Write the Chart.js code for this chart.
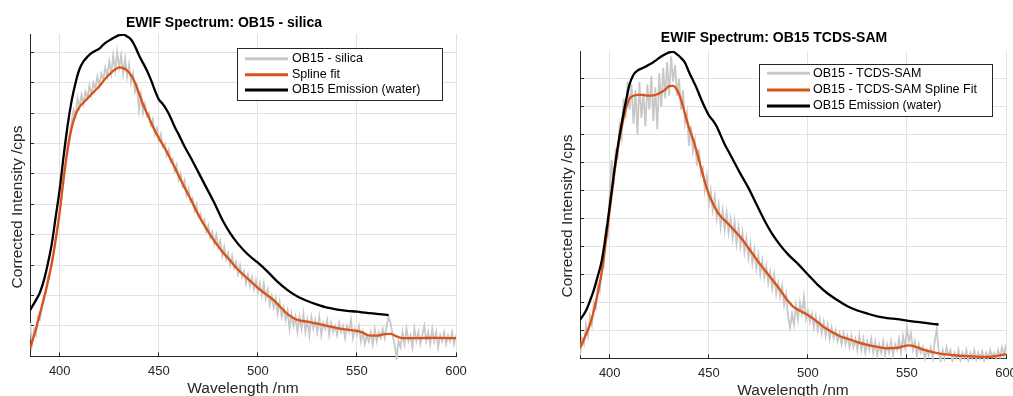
<!DOCTYPE html>
<html>
<head>
<meta charset="utf-8">
<title>EWIF Spectrum</title>
<script src="https://cdn.jsdelivr.net/npm/chart.js@4.4.1/dist/chart.umd.min.js"></script>
<style>
    html, body { margin: 0; padding: 0; background: #fff; overflow: hidden; }
    #wrap { position: relative; width: 1013px; height: 396px; }
    canvas { position: absolute; top: 0; }
    #silicaChart { left: 0; }
    #samChart { left: 540px; }
</style>
</head>
<body>
<div id="wrap">
    <canvas id="silicaChart" width="470" height="396"></canvas>
    <canvas id="samChart" width="473" height="398"></canvas>
</div>
<script>
// ==================== DONNEES ====================
const xTicks = [400, 450, 500, 550, 600];
const gridLevels = [0, 1, 2, 3, 4, 5, 6, 7, 8, 9, 10];

// spectres bruts : un point par nm, de 385 a 600 nm
const rawStart = 385;
const silicaRaw = [
    1.1, 0.4, 0.9, 0.7, 1.3, 1.2, 1.6, 2.0, 2.1, 2.6,
    2.8, 3.2, 3.5, 3.9, 4.3, 4.8, 5.3, 5.9, 6.4, 7.0,
    7.3, 7.7, 8.1, 7.9, 8.5, 8.2, 8.6, 8.3, 8.7, 8.5,
    8.9, 8.6, 9.0, 8.8, 9.2, 8.9, 9.3, 9.1, 9.5, 9.2,
    9.7, 9.3, 9.9, 9.4, 10.0, 9.5, 9.9, 9.3, 9.8, 9.2,
    9.6, 9.0, 9.3, 8.7, 8.9, 8.1, 8.6, 8.0, 8.3, 7.9,
    8.0, 7.6, 7.8, 7.3, 7.5, 7.1, 7.3, 6.9, 7.0, 6.6,
    6.8, 6.4, 6.5, 6.1, 6.3, 5.8, 6.0, 5.6, 5.8, 5.3,
    5.5, 5.1, 5.2, 4.8, 5.0, 4.6, 4.7, 4.4, 4.5, 4.1,
    4.3, 3.9, 4.1, 3.7, 4.0, 3.6, 3.8, 3.3, 3.6, 3.2,
    3.4, 3.0, 3.3, 2.9, 3.1, 2.7, 3.0, 2.6, 2.8, 2.4,
    2.7, 2.3, 2.6, 2.2, 2.5, 2.1, 2.4, 2.0, 2.4, 1.9,
    2.2, 1.7, 2.0, 1.6, 1.9, 1.4, 1.8, 1.3, 1.6, 1.2,
    1.5, 0.9, 1.4, 1.0, 1.3, 0.8, 1.3, 0.9, 1.4, 0.8,
    1.2, 0.7, 1.3, 0.9, 1.2, 0.8, 1.3, 0.7, 1.1, 0.9,
    1.2, 0.7, 1.1, 0.8, 1.0, 0.7, 1.1, 0.8, 1.0, 0.6,
    1.0, 0.8, 1.2, 0.6, 0.9, 0.7, 1.0, 0.5, 0.8, 0.4,
    0.7, 0.5, 0.8, 0.4, 0.9, 0.5, 0.8, 0.6, 0.9, 0.6,
    1.0, 1.3, 1.1, 0.7, 0.4, -0.05, 0.5, 0.3, 0.8, 0.4,
    0.9, 0.5, 0.7, 0.3, 0.9, 0.5, 0.8, 0.4, 0.7, 1.0,
    0.5, 0.8, 0.4, 0.9, 0.5, 0.8, 0.3, 0.7, 0.5, 0.8,
    0.4, 0.7, 0.5, 0.8, 0.4, 0.7
];
const samRaw = [
    0.1, 0.7, 0.5, 1.2, 0.8, 1.5, 1.2, 2.0, 1.8, 2.6,
    2.4, 3.4, 3.3, 4.6, 4.4, 5.9, 7.1, 6.2, 7.4, 7.2,
    8.3, 7.9, 9.3, 8.6, 9.9, 8.9, 9.8, 8.4, 9.6, 8.0,
    9.9, 8.6, 9.5, 8.3, 9.8, 8.9, 10.1, 8.5, 9.7, 8.2,
    10.2, 9.0, 10.4, 9.3, 10.6, 9.4, 10.8, 9.9, 10.5, 9.4,
    10.0, 8.9, 9.6, 8.4, 8.8, 7.6, 8.3, 7.4, 7.8, 6.9,
    7.5, 6.6, 6.8, 6.0, 6.5, 5.5, 6.0, 5.3, 5.8, 5.0,
    5.5, 4.7, 5.3, 4.6, 5.2, 4.5, 5.0, 4.3, 4.9, 4.1,
    4.7, 4.0, 4.5, 3.8, 4.3, 3.6, 4.1, 3.4, 3.9, 3.2,
    3.7, 3.0, 3.5, 2.9, 3.3, 2.7, 3.1, 2.5, 3.0, 2.3,
    2.7, 2.2, 2.6, 1.9, 2.3, 1.5, 1.1, 1.6, 1.2, 1.9,
    1.4, 2.0, 1.6, 2.2, 1.4, 1.7, 1.3, 1.6, 1.1, 1.5,
    1.0, 1.4, 0.9, 1.3, 0.8, 1.2, 0.7, 1.1, 0.7, 1.0,
    0.6, 0.9, 0.5, 0.9, 0.5, 0.8, 0.4, 0.8, 0.4, 0.7,
    0.3, 0.8, 0.3, 0.7, 0.2, 0.6, 0.3, 0.7, 0.2, 0.6,
    0.1, 0.5, 0.2, 0.6, 0.1, 0.5, 0.2, 0.6, 0.1, 0.5,
    0.3, 0.7, 0.2, 0.8, 0.4, 1.1, 0.6, 0.9, 0.3, 0.6,
    0.1, 0.5, 0.2, 0.4, 0.0, 0.3, 0.1, 0.4, 0.0, 0.6,
    1.05, 0.3, -0.1, 0.3, 0.0, 0.4, 0.1, 0.3, -0.1, 0.2,
    0.0, 0.3, -0.1, 0.2, 0.0, 0.3, -0.1, 0.2, 0.0, 0.3,
    -0.05, 0.2, 0.0, 0.25, -0.1, 0.2, 0.0, 0.3, 0.05, 0.2,
    0.0, 0.3, 0.05, 0.4, 0.1, 0.5
];

// ajustements spline
const silicaFitNm = [385, 388, 390, 392, 394, 396, 398, 400, 402, 404, 406, 408, 410, 412, 414, 416, 418, 420,
    422, 424, 426, 428, 430, 432, 434, 436, 438, 440, 442, 444, 446, 448, 450, 452, 454, 456, 458, 460,
    463, 466, 470, 474, 478, 482, 486, 490, 495, 500, 505, 508, 511, 514, 517, 520,
    525, 530, 535, 540, 545, 550, 553, 556, 560, 564, 567, 570, 573, 580, 590, 600];
const silicaFit = [0.25, 0.9, 1.4, 1.9, 2.45, 3.05, 3.85, 4.75, 5.85, 6.8, 7.5, 7.95, 8.2, 8.35, 8.48, 8.62, 8.75, 8.88,
    9.05, 9.2, 9.33, 9.43, 9.5, 9.48, 9.4, 9.25, 9.0, 8.65, 8.3, 8.0, 7.7, 7.43, 7.18, 6.96, 6.73, 6.48, 6.22, 5.95,
    5.55, 5.18, 4.65, 4.2, 3.8, 3.45, 3.15, 2.85, 2.55, 2.25, 2.0, 1.85, 1.65, 1.45, 1.3, 1.2,
    1.14, 1.08, 1.0, 0.93, 0.88, 0.84, 0.78, 0.69, 0.68, 0.73, 0.74, 0.66, 0.6, 0.6, 0.61, 0.6];

const samFitNm = [385, 388, 390, 392, 394, 396, 398, 400, 402, 404, 406, 408, 410, 412, 414, 416, 418, 420,
    422, 424, 426, 428, 430, 432, 434, 436, 438, 440, 442, 444, 446, 448, 450, 452, 454, 456, 458, 460,
    463, 466, 470, 474, 478, 482, 486, 490, 493, 496, 500, 504, 508, 512, 516, 520,
    525, 530, 535, 540, 545, 548, 551, 554, 558, 562, 566, 570, 575, 580, 585, 590, 595, 600];
const samFit = [0.36, 0.85, 1.2, 1.7, 2.35, 3.1, 4.15, 5.3, 6.43, 7.45, 8.25, 8.9, 9.3, 9.4, 9.43, 9.43, 9.41, 9.4,
    9.41, 9.45, 9.52, 9.62, 9.74, 9.75, 9.6, 9.25, 8.75, 8.25, 7.85, 7.38, 6.85, 6.32, 5.88, 5.55, 5.28, 5.08, 4.94, 4.8,
    4.57, 4.33, 3.95, 3.55, 3.18, 2.82, 2.45, 2.05, 1.82, 1.7, 1.55, 1.35, 1.12, 0.95, 0.8, 0.7,
    0.58, 0.48, 0.41, 0.36, 0.37, 0.43, 0.46, 0.42, 0.32, 0.24, 0.18, 0.14, 0.1, 0.08, 0.06, 0.05, 0.08, 0.15];

// emission dans l'eau (meme spectre, echelle propre a chaque graphe)
const waterNm = [385, 388, 390, 392, 394, 396, 398, 400, 402, 404, 406, 408, 410, 412, 414, 416, 418, 420,
    422, 424, 426, 428, 430, 432, 434, 436, 438, 440, 442, 444, 446, 448, 450, 452, 454, 456, 458, 460,
    463, 466, 470, 474, 478, 482, 486, 490, 495, 500, 505, 510, 515, 520, 525, 530, 535, 540, 545, 550, 555, 560, 566];
const waterSilica = [1.52, 1.85, 2.1, 2.5, 3.05, 3.7, 4.6, 5.5, 6.6, 7.6, 8.4, 9.0, 9.45, 9.7, 9.85, 9.97, 10.05, 10.12,
    10.25, 10.35, 10.43, 10.5, 10.56, 10.58, 10.52, 10.42, 10.2, 9.9, 9.65, 9.4, 9.1, 8.75, 8.45, 8.3, 8.1, 7.85, 7.55, 7.3,
    6.9, 6.55, 6.05, 5.55, 5.05, 4.5, 4.05, 3.7, 3.35, 3.08, 2.78, 2.45, 2.18, 1.97, 1.82, 1.7, 1.6, 1.54, 1.5, 1.47, 1.43, 1.4, 1.36];
const waterSam = [1.37, 1.7, 2.05, 2.45, 2.95, 3.5, 4.4, 5.45, 6.55, 7.55, 8.4, 9.15, 9.8, 10.15, 10.3, 10.37, 10.44, 10.52,
    10.6, 10.7, 10.8, 10.88, 10.95, 10.97, 10.88, 10.75, 10.58, 10.25, 9.95, 9.65, 9.3, 8.98, 8.7, 8.52, 8.3, 7.98, 7.66, 7.4,
    7.0, 6.6, 6.1, 5.52, 4.95, 4.45, 4.05, 3.72, 3.38, 3.0, 2.63, 2.32, 2.08, 1.86, 1.71, 1.6, 1.5, 1.44, 1.4, 1.35, 1.3, 1.26, 1.21];

// ==================== GRAPHIQUES ====================
const FONT = '"Liberation Sans", Arial, Helvetica, sans-serif';
const AXIS_COLOR = '#262626';
const GRID_COLOR = '#e2e2e2';

Chart.defaults.font.family = FONT;

function toPoints(xs, ys) {
    return ys.map((y, i) => ({ x: xs[i], y: y }));
}

function rawPoints(ys) {
    return ys.map((y, i) => ({ x: rawStart + i, y: y }));
}

// titre du graphe et titre de l'axe Y
const panelText = {
    id: 'panelText',
    afterDraw(chart, args, opts) {
        const ctx = chart.ctx;
        ctx.save();
        ctx.textAlign = 'center';
        ctx.textBaseline = 'middle';
        ctx.fillStyle = '#000';
        ctx.font = 'bold 14px ' + FONT;
        ctx.fillText(opts.title, opts.titleX, opts.titleY);
        ctx.translate(opts.yLabelX, opts.yLabelY);
        ctx.rotate(-Math.PI / 2);
        ctx.fillStyle = AXIS_COLOR;
        ctx.font = '15.5px ' + FONT;
        ctx.fillText(opts.yLabel, 0, 0);
        ctx.restore();
    }
};

// legende encadree, style MATLAB
const boxLegend = {
    id: 'boxLegend',
    afterDatasetsDraw(chart, args, opts) {
        const ctx = chart.ctx;
        ctx.save();
        ctx.fillStyle = '#fff';
        ctx.fillRect(opts.x, opts.y, opts.w, opts.h);
        ctx.strokeStyle = AXIS_COLOR;
        ctx.lineWidth = 1;
        ctx.strokeRect(opts.x + 0.5, opts.y + 0.5, opts.w, opts.h);
        ctx.font = '12.5px ' + FONT;
        ctx.textAlign = 'left';
        ctx.textBaseline = 'middle';
        chart.data.datasets.forEach((ds, i) => {
            const y = opts.rows[i];
            ctx.strokeStyle = ds.borderColor;
            ctx.lineWidth = 3;
            ctx.beginPath();
            ctx.moveTo(opts.lineX0, y);
            ctx.lineTo(opts.lineX1, y);
            ctx.stroke();
            ctx.fillStyle = '#000';
            ctx.fillText(ds.label, opts.textX, y);
        });
        ctx.restore();
    }
};

function makeSpectrumChart(canvasId, cfg) {
    return new Chart(document.getElementById(canvasId), {
        type: 'line',
        data: {
            datasets: [{
                label: cfg.rawLabel,
                data: rawPoints(cfg.raw),
                borderColor: '#c8c8c8',
                borderWidth: 1.8,
                pointRadius: 0,
                tension: 0,
                order: 3,
                clip: { left: 0, top: 0, right: 0, bottom: 4 }
            }, {
                label: cfg.fitLabel,
                data: toPoints(cfg.fitNm, cfg.fit),
                borderColor: '#d95319',
                borderWidth: 2.3,
                pointRadius: 0,
                cubicInterpolationMode: 'monotone',
                order: 2
            }, {
                label: 'OB15 Emission (water)',
                data: toPoints(waterNm, cfg.water),
                borderColor: '#000000',
                borderWidth: 2.3,
                pointRadius: 0,
                cubicInterpolationMode: 'monotone',
                order: 1
            }]
        },
        options: {
            responsive: false,
            animation: false,
            layout: { padding: { top: cfg.top, right: cfg.right, left: 0, bottom: 0 } },
            plugins: {
                legend: { display: false },
                tooltip: { enabled: false },
                panelText: cfg.text,
                boxLegend: cfg.legend
            },
            scales: {
                x: {
                    type: 'linear',
                    min: 385,
                    max: 600,
                    afterBuildTicks: s => { s.ticks = xTicks.map(v => ({ value: v })); },
                    ticks: { color: AXIS_COLOR, font: { size: 13 }, padding: 11, maxRotation: 0 },
                    grid: { color: GRID_COLOR, tickColor: AXIS_COLOR, tickLength: -4 },
                    border: { color: AXIS_COLOR, width: 1 },
                    title: {
                        display: true,
                        text: 'Wavelength /nm',
                        color: AXIS_COLOR,
                        font: { size: 15.5, lineHeight: 1 },
                        padding: 0
                    },
                    afterFit: s => { s.height = cfg.xHeight; s.paddingLeft = 0; s.paddingRight = 0; }
                },
                y: {
                    min: 0,
                    max: cfg.yMax,
                    afterBuildTicks: s => { s.ticks = gridLevels.map(v => ({ value: v })); },
                    ticks: { display: false },
                    grid: { color: GRID_COLOR, tickColor: AXIS_COLOR, tickLength: -4 },
                    border: { color: AXIS_COLOR, width: 1 },
                    afterFit: s => { s.width = cfg.yWidth; s.paddingTop = 0; s.paddingBottom = 0; }
                }
            }
        },
        plugins: [panelText, boxLegend]
    });
}

makeSpectrumChart('silicaChart', {
    raw: silicaRaw,
    rawLabel: 'OB15 - silica',
    fitNm: silicaFitNm,
    fit: silicaFit,
    fitLabel: 'Spline fit',
    water: waterSilica,
    yMax: 10.6,
    top: 34,
    right: 14,
    yWidth: 30,
    xHeight: 39.6,
    text: { title: 'EWIF Spectrum: OB15 - silica', titleX: 224, titleY: 23,
            yLabel: 'Corrected Intensity /cps', yLabelX: 17.5, yLabelY: 207 },
    legend: { x: 237, y: 48, w: 205, h: 52, lineX0: 245, lineX1: 288, textX: 292, rows: [58.7, 74.7, 90] }
});

makeSpectrumChart('samChart', {
    raw: samRaw,
    rawLabel: 'OB15 - TCDS-SAM',
    fitNm: samFitNm,
    fit: samFit,
    fitLabel: 'OB15 - TCDS-SAM Spline Fit',
    water: waterSam,
    yMax: 11,
    top: 51,
    right: 7,
    yWidth: 40,
    xHeight: 39.7,
    text: { title: 'EWIF Spectrum: OB15 TCDS-SAM', titleX: 234, titleY: 38.3,
            yLabel: 'Corrected Intensity /cps', yLabelX: 27.5, yLabelY: 216 },
    legend: { x: 219, y: 64, w: 233, h: 52, lineX0: 227, lineX1: 270, textX: 273, rows: [73.3, 90, 106] }
});
</script>
</body>
</html>
